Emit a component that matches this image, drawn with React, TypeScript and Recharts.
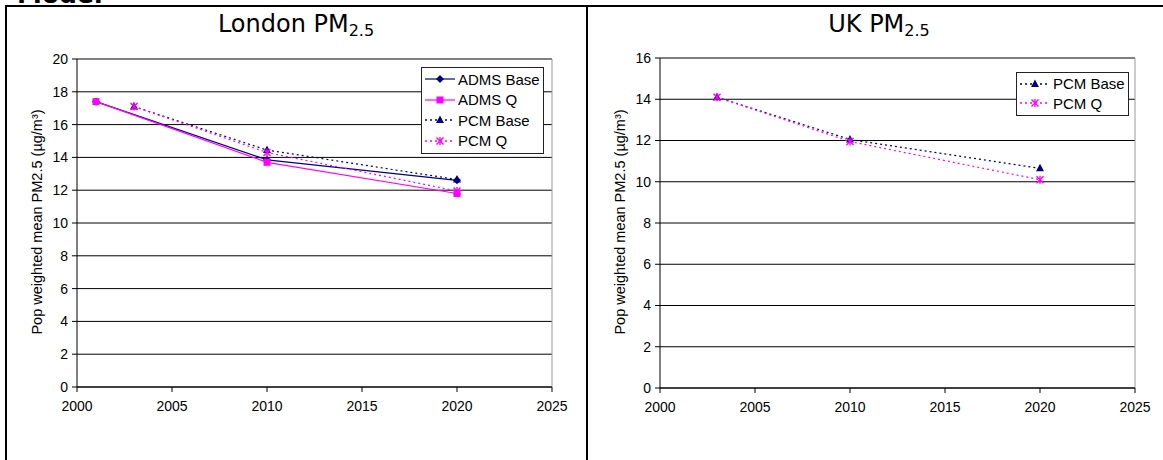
import React from 'react';
import { LineChart, Line, XAxis, YAxis, CartesianGrid, ReferenceLine, Legend } from 'recharts';

const admsYears = [2001, 2010, 2020];
const pcmYears = [2003, 2010, 2020];

const londonAdmsBase = [17.4, 13.85, 12.6];
const londonAdmsQ = [17.4, 13.7, 11.8];
const londonPcmBase = [17.1, 14.45, 12.65];
const londonPcmQ = [17.1, 14.3, 11.95];

const ukPcmBase = [14.1, 12.05, 10.65];
const ukPcmQ = [14.1, 11.95, 10.1];

const xTicks = [2000, 2005, 2010, 2015, 2020, 2025];
const londonYTicks = [0, 2, 4, 6, 8, 10, 12, 14, 16, 18, 20];
const ukYTicks = [0, 2, 4, 6, 8, 10, 12, 14, 16];

const NAVY = '#000080';
const MAGENTA = '#FF00FF';
const TICK_FONT = { fontFamily: '"Liberation Sans", Arial, sans-serif', fontSize: 14, fill: '#000' };

type Shape = 'diamond' | 'square' | 'triangle' | 'star';

type Series = {
  name: string;
  years: number[];
  values: number[];
  color: string;
  dotted: boolean;
  shape: Shape;
};

const toPoints = (years: number[], values: number[]) => years.map((year, i) => ({ year, v: values[i] }));

const Marker = ({ shape, color, cx, cy }: { shape: Shape; color: string; cx: number; cy: number }) => {
  if (shape === 'diamond') {
    return <polygon points={`${cx},${cy - 4} ${cx + 4},${cy} ${cx},${cy + 4} ${cx - 4},${cy}`} fill={color} />;
  }
  if (shape === 'square') {
    return <rect x={cx - 3.5} y={cy - 3.5} width={7} height={7} fill={color} />;
  }
  if (shape === 'triangle') {
    return <polygon points={`${cx},${cy - 4.5} ${cx + 4},${cy + 3} ${cx - 4},${cy + 3}`} fill={color} />;
  }
  return (
    <g stroke={color} strokeWidth={1.4}>
      <line x1={cx - 3.5} y1={cy - 3.5} x2={cx + 3.5} y2={cy + 3.5} />
      <line x1={cx - 3.5} y1={cy + 3.5} x2={cx + 3.5} y2={cy - 3.5} />
      <line x1={cx} y1={cy - 4} x2={cx} y2={cy + 4} />
    </g>
  );
};

const LegendBox = ({ series, rowH }: { series: Series[]; rowH: number }) => (
  <div
    style={{
      border: '1px solid #222',
      background: '#fff',
      padding: '1px 3px 2px 3px',
      fontFamily: '"Liberation Sans", Arial, sans-serif',
      fontSize: 15,
      color: '#000',
    }}
  >
    {series.map((s) => (
      <div key={s.name} style={{ display: 'flex', alignItems: 'center', height: rowH, whiteSpace: 'nowrap' }}>
        <svg width={30} height={10} style={{ marginRight: 3 }}>
          <line
            x1={0}
            y1={5}
            x2={30}
            y2={5}
            stroke={s.color}
            strokeWidth={s.dotted ? 1.3 : 1.2}
            strokeDasharray={s.dotted ? '2 3' : undefined}
          />
          <Marker shape={s.shape} color={s.color} cx={15} cy={5} />
        </svg>
        {s.name}
      </div>
    ))}
  </div>
);

type PanelProps = {
  left: number;
  series: Series[];
  yMax: number;
  yTicks: number[];
  marginTop: number;
  marginBottom: number;
  legendPos: { top: number; left: number };
  legendRowH: number;
};

const Panel = ({ left, series, yMax, yTicks, marginTop, marginBottom, legendPos, legendRowH }: PanelProps) => (
  <div style={{ position: 'absolute', left, top: 0 }}>
    <LineChart width={570} height={440} margin={{ top: marginTop, right: 18, left: 0, bottom: marginBottom }}>
      <CartesianGrid horizontal vertical={false} stroke="#000" strokeWidth={1} />
      <XAxis
        dataKey="year"
        type="number"
        domain={[2000, 2025]}
        ticks={xTicks}
        allowDuplicatedCategory={false}
        tick={TICK_FONT}
        tickSize={5}
        tickMargin={9}
        stroke="#000"
        height={30}
      />
      <YAxis
        type="number"
        domain={[0, yMax]}
        ticks={yTicks}
        tick={TICK_FONT}
        tickSize={5}
        tickMargin={4}
        stroke="#000"
        width={77}
        interval={0}
      />
      <ReferenceLine x={2025} stroke="#999" />
      {series.map((s) => (
        <Line
          key={s.name}
          name={s.name}
          data={toPoints(s.years, s.values)}
          dataKey="v"
          stroke={s.color}
          strokeWidth={1.2}
          strokeDasharray={s.dotted ? '2 3' : undefined}
          isAnimationActive={false}
          dot={(p: any) => <Marker key={`${s.name}-${p.index}`} shape={s.shape} color={s.color} cx={p.cx} cy={p.cy} />}
          activeDot={false}
        />
      ))}
      <Legend
        layout="vertical"
        align="center"
        verticalAlign="middle"
        wrapperStyle={{ top: legendPos.top, left: legendPos.left, width: 'auto' }}
        content={() => <LegendBox series={series} rowH={legendRowH} />}
      />
    </LineChart>
  </div>
);

const londonSeries: Series[] = [
  { name: 'ADMS Base', years: admsYears, values: londonAdmsBase, color: NAVY, dotted: false, shape: 'diamond' },
  { name: 'ADMS Q', years: admsYears, values: londonAdmsQ, color: MAGENTA, dotted: false, shape: 'square' },
  { name: 'PCM Base', years: pcmYears, values: londonPcmBase, color: NAVY, dotted: true, shape: 'triangle' },
  { name: 'PCM Q', years: pcmYears, values: londonPcmQ, color: MAGENTA, dotted: true, shape: 'star' },
];

const ukSeries: Series[] = [
  { name: 'PCM Base', years: pcmYears, values: ukPcmBase, color: NAVY, dotted: true, shape: 'triangle' },
  { name: 'PCM Q', years: pcmYears, values: ukPcmQ, color: MAGENTA, dotted: true, shape: 'star' },
];

const yLabelStyle = (cx: number): React.CSSProperties => ({
  position: 'absolute',
  left: cx,
  top: 222,
  transform: 'translate(-50%, -50%) rotate(-90deg)',
  whiteSpace: 'nowrap',
  fontFamily: '"Liberation Sans", Arial, sans-serif',
  fontSize: 14.5,
  color: '#000',
});

const titleStyle = (cx: number): React.CSSProperties => ({
  position: 'absolute',
  left: cx - 150,
  width: 300,
  top: 12,
  textAlign: 'center',
  fontFamily: '"DejaVu Sans", Verdana, sans-serif',
  fontSize: 24,
  lineHeight: '24px',
  color: '#000',
});

const subStyle: React.CSSProperties = { fontSize: 16, verticalAlign: '-4px', lineHeight: 0 };

export default function App() {
  return (
    <div style={{ position: 'absolute', left: 0, top: 0, width: 1163, height: 460, overflow: 'hidden', background: '#fff' }}>
      <div
        style={{
          position: 'absolute',
          left: 17,
          top: -18,
          fontFamily: '"DejaVu Sans", Verdana, sans-serif',
          fontWeight: 'bold',
          fontSize: 25,
          lineHeight: '25px',
        }}
      >
        Model
      </div>
      <div style={{ position: 'absolute', left: 5, top: 5, width: 1158, height: 2, background: '#000' }} />
      <div style={{ position: 'absolute', left: 5, top: 5, width: 2, height: 455, background: '#000' }} />
      <div style={{ position: 'absolute', left: 586, top: 5, width: 2, height: 455, background: '#000' }} />

      <Panel
        left={0}
        series={londonSeries}
        yMax={20}
        yTicks={londonYTicks}
        marginTop={59}
        marginBottom={23}
        legendPos={{ top: 67, left: 421 }}
        legendRowH={20.5}
      />
      <Panel
        left={583}
        series={ukSeries}
        yMax={16}
        yTicks={ukYTicks}
        marginTop={58}
        marginBottom={22}
        legendPos={{ top: 72, left: 433 }}
        legendRowH={19.5}
      />

      <div style={titleStyle(296)}>
        London PM<sub style={subStyle}>2.5</sub>
      </div>
      <div style={titleStyle(879)}>
        UK PM<sub style={subStyle}>2.5</sub>
      </div>
      <div style={yLabelStyle(37)}>Pop weighted mean PM2.5 (µg/m³)</div>
      <div style={yLabelStyle(620)}>Pop weighted mean PM2.5 (µg/m³)</div>
    </div>
  );
}
